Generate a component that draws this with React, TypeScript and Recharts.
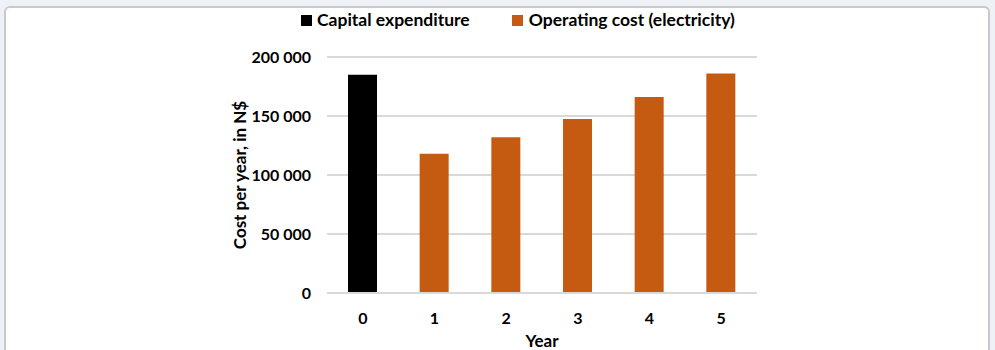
import { BarChart, Bar, XAxis, YAxis, CartesianGrid, Label } from "recharts";

const years: string[] = ["0", "1", "2", "3", "4", "5"];
const capitalExpenditure: (number | null)[] = [185000, null, null, null, null, null];
const operatingCost: (number | null)[] = [null, 118000, 132000, 147500, 166000, 186000];
const yTicks: number[] = [0, 50000, 100000, 150000, 200000];

const font = "Lato, 'Open Sans', sans-serif";
const black = "#000000";
const orange = "#c55a11";

const data = years.map((y, i) => ({
    year: y,
    capital: capitalExpenditure[i],
    operating: operatingCost[i],
}));

const fmt = (v: number) => (v === 0 ? "0" : v.toLocaleString("en-US").replace(/,/g, " "));

const tickStyle = { fill: "#000", fontFamily: font, fontWeight: 700, fontSize: 16 };
const labelStyle = { fill: "#000", fontFamily: font, fontWeight: 700, fontSize: 17 };

const ChartLegend = () => (
    <div
        style={{
            position: "absolute",
            left: 301,
            top: 9,
            display: "flex",
            fontFamily: font,
            fontWeight: 700,
            fontSize: 17.5,
            lineHeight: "22px",
            color: "#000",
        }}
    >
        <div style={{ display: "flex", alignItems: "center", marginRight: 42 }}>
            <span style={{ width: 11, height: 11, background: black, display: "inline-block", marginRight: 5 }} />
            Capital expenditure
        </div>
        <div style={{ display: "flex", alignItems: "center" }}>
            <span style={{ width: 11, height: 11, background: orange, display: "inline-block", marginRight: 6 }} />
            Operating cost (electricity)
        </div>
    </div>
);

export default function App() {
    return (
        <div style={{ position: "absolute", left: 0, top: 0, width: 995, height: 350, background: "#eef1f5", overflow: "hidden" }}>
            <div
                style={{
                    position: "absolute",
                    left: 4,
                    top: 6,
                    width: 982,
                    height: 360,
                    border: "2px solid #c9c9c9",
                    borderRadius: 6,
                    background: "#fff",
                }}
            />
            <ChartLegend />
            <div style={{ position: "absolute", left: 0, top: 0 }}>
                <BarChart width={995} height={350} data={data} margin={{ top: 57, right: 238, left: 247, bottom: 0 }} barSize={29}>
                    <CartesianGrid vertical={false} stroke="#d9d9d9" strokeWidth={2} />
                    <XAxis
                        dataKey="year"
                        axisLine={{ stroke: "#d9d9d9", strokeWidth: 2 }}
                        tickLine={false}
                        tickMargin={14}
                        tick={tickStyle}
                        height={57}
                    >
                        <Label value="Year" position="insideBottom" offset={3} style={labelStyle} />
                    </XAxis>
                    <YAxis
                        domain={[0, 200000]}
                        ticks={yTicks}
                        tickFormatter={fmt}
                        axisLine={false}
                        tickLine={false}
                        tickMargin={10}
                        width={80}
                        tick={tickStyle}
                    >
                        <Label
                            value="Cost per year, in N$"
                            angle={-90}
                            position="insideLeft"
                            offset={-7}
                            style={{ ...labelStyle, textAnchor: "middle" }}
                        />
                    </YAxis>
                    <Bar dataKey="capital" stackId="a" fill={black} isAnimationActive={false} name="Capital expenditure" />
                    <Bar dataKey="operating" stackId="a" fill={orange} isAnimationActive={false} name="Operating cost (electricity)" />
                </BarChart>
            </div>
        </div>
    );
}
